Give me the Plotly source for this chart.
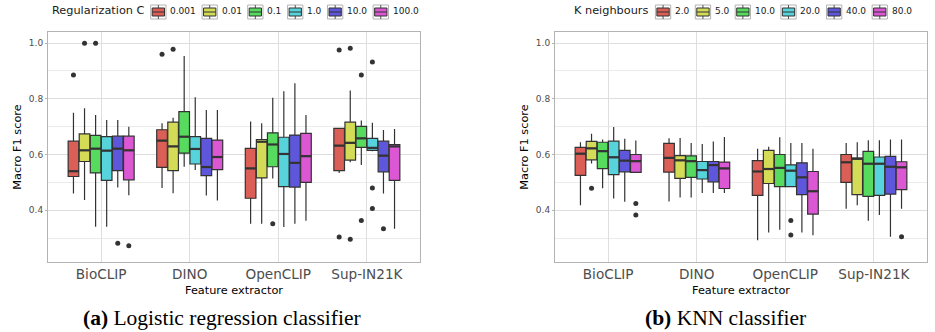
import plotly.graph_objects as go

# ---------------- data ----------------
categories = ["BioCLIP", "DINO", "OpenCLIP", "Sup-IN21K"]

lr_groups = ["0.001", "0.01", "0.1", "1.0", "10.0", "100.0"]
lr_lower = [[0.460, 0.480, 0.351, 0.534], [0.437, 0.461, 0.351, 0.572], [0.341, 0.556, 0.514, 0.562],
            [0.341, 0.544, 0.340, 0.612], [0.482, 0.453, 0.351, 0.460], [0.454, 0.435, 0.362, 0.333]]
lr_q1 = [[0.521, 0.554, 0.443, 0.542], [0.575, 0.542, 0.516, 0.580], [0.534, 0.605, 0.556, 0.626],
         [0.507, 0.566, 0.485, 0.615], [0.542, 0.524, 0.483, 0.538], [0.509, 0.546, 0.500, 0.507]]
lr_median = [[0.540, 0.650, 0.550, 0.632], [0.615, 0.629, 0.646, 0.642], [0.621, 0.664, 0.636, 0.658],
             [0.614, 0.620, 0.602, 0.624], [0.621, 0.555, 0.570, 0.596], [0.615, 0.591, 0.594, 0.629]]
lr_q3 = [[0.648, 0.689, 0.622, 0.694], [0.674, 0.716, 0.654, 0.716], [0.669, 0.754, 0.678, 0.701],
         [0.664, 0.664, 0.662, 0.658], [0.666, 0.658, 0.670, 0.648], [0.666, 0.652, 0.676, 0.636]]
lr_upper = [[0.750, 0.712, 0.719, 0.696], [0.766, 0.732, 0.712, 0.830], [0.742, 0.954, 0.804, 0.722],
            [0.724, 0.806, 0.827, 0.714], [0.724, 0.760, 0.856, 0.688], [0.700, 0.760, 0.742, 0.692]]
lr_outlier_cat = [["BioCLIP", "DINO", "Sup-IN21K", "Sup-IN21K"],
                  ["BioCLIP", "DINO", "Sup-IN21K", "Sup-IN21K"],
                  ["BioCLIP", "OpenCLIP", "Sup-IN21K", "Sup-IN21K"],
                  ["Sup-IN21K", "Sup-IN21K", "Sup-IN21K"],
                  ["BioCLIP", "Sup-IN21K"],
                  ["BioCLIP"]]
lr_outlier_val = [[0.886, 0.960, 0.975, 0.304],
                  [1.000, 0.978, 0.982, 0.296],
                  [1.000, 0.351, 0.886, 0.363],
                  [0.932, 0.480, 0.406],
                  [0.281, 0.333],
                  [0.272]]

knn_groups = ["2.0", "5.0", "10.0", "20.0", "40.0", "80.0"]
knn_lower = [[0.418, 0.431, 0.292, 0.405], [0.568, 0.446, 0.320, 0.418], [0.479, 0.446, 0.330, 0.362],
             [0.442, 0.462, 0.485, 0.383], [0.430, 0.462, 0.320, 0.305], [0.536, 0.462, 0.310, 0.405]]
knn_q1 = [[0.525, 0.537, 0.453, 0.500], [0.581, 0.514, 0.496, 0.456], [0.549, 0.518, 0.485, 0.450],
          [0.528, 0.512, 0.485, 0.453], [0.538, 0.502, 0.456, 0.458], [0.536, 0.478, 0.386, 0.474]]
knn_median = [[0.603, 0.588, 0.539, 0.572], [0.622, 0.579, 0.548, 0.585], [0.612, 0.576, 0.552, 0.567],
              [0.590, 0.544, 0.542, 0.567], [0.578, 0.562, 0.518, 0.556], [0.576, 0.550, 0.468, 0.554]]
knn_q3 = [[0.626, 0.640, 0.578, 0.600], [0.647, 0.596, 0.615, 0.587], [0.644, 0.595, 0.600, 0.611],
          [0.648, 0.575, 0.563, 0.591], [0.615, 0.575, 0.570, 0.593], [0.600, 0.573, 0.539, 0.574]]
knn_upper = [[0.644, 0.658, 0.621, 0.641], [0.675, 0.659, 0.628, 0.644], [0.654, 0.641, 0.662, 0.651],
             [0.699, 0.638, 0.641, 0.651], [0.657, 0.647, 0.641, 0.654], [0.650, 0.663, 0.621, 0.654]]
knn_outlier_cat = [[], ["BioCLIP"], [], ["OpenCLIP", "OpenCLIP"], [], ["BioCLIP", "BioCLIP", "Sup-IN21K"]]
knn_outlier_val = [[], [0.479], [], [0.363, 0.311], [], [0.424, 0.383, 0.305]]

y_ticks = [0.4, 0.6, 0.8, 1.0]
y_minor = [0.3, 0.5, 0.7, 0.9]

# ---------------- style ----------------
colors = ["#db5f57", "#d3db57", "#57db5f", "#57d3db", "#5f57db", "#db57d3"]
W, H = 935, 332
ML, MR, MT, MB = 48, 8, 32, 70
PW, PH = W - ML - MR, H - MT - MB
DODGE = 0.125
BOXW = 0.12
FONT = "DejaVu Sans"


def px_x(px):
    return (px - ML) / PW


def px_y(py):
    return (H - MB - py) / PH


fig = go.Figure()

panels = [
    dict(xa="x", ya="y", groups=lr_groups, lower=lr_lower, q1=lr_q1, med=lr_median, q3=lr_q3,
         upper=lr_upper, ocat=lr_outlier_cat, oval=lr_outlier_val),
    dict(xa="x2", ya="y2", groups=knn_groups, lower=knn_lower, q1=knn_q1, med=knn_median, q3=knn_q3,
         upper=knn_upper, ocat=knn_outlier_cat, oval=knn_outlier_val),
]

for p in panels:
    for j, g in enumerate(p["groups"]):
        offset = (j - (len(p["groups"]) - 1) / 2) * DODGE
        xs = [i + 1 + offset for i in range(len(categories))]
        fig.add_trace(go.Box(
            x=xs, q1=p["q1"][j], median=p["med"][j], q3=p["q3"][j],
            lowerfence=p["lower"][j], upperfence=p["upper"][j],
            width=BOXW, fillcolor=colors[j], whiskerwidth=0,
            line=dict(color="#333333", width=1.2), boxpoints=False,
            name=g, showlegend=False, xaxis=p["xa"], yaxis=p["ya"],
        ))
        # thicker median bar (ggplot fatten)
        mx, my = [], []
        for x, m in zip(xs, p["med"][j]):
            mx += [x - BOXW / 2, x + BOXW / 2, None]
            my += [m, m, None]
        fig.add_trace(go.Scatter(x=mx, y=my, mode="lines", line=dict(color="#333333", width=2.2),
                                 showlegend=False, hoverinfo="skip", xaxis=p["xa"], yaxis=p["ya"]))
        if p["oval"][j]:
            ox = [categories.index(c) + 1 + offset for c in p["ocat"][j]]
            fig.add_trace(go.Scatter(
                x=ox, y=p["oval"][j], mode="markers",
                marker=dict(color="#333333", size=5),
                showlegend=False, xaxis=p["xa"], yaxis=p["ya"],
            ))

xcommon = dict(range=[0.4, 4.6], tickvals=[1, 2, 3, 4], ticktext=categories,
               showgrid=True, gridcolor="#dedede", gridwidth=1, zeroline=False,
               showline=True, mirror=True, linecolor="#b3b3b3", linewidth=1,
               ticks="",
               tickfont=dict(family=FONT, size=13.6, color="#4d4d4d"),
               title=dict(text="Feature extractor", font=dict(family=FONT, size=11.3, color="#000000"),
                          standoff=4),
               automargin=False)
ycommon = dict(range=[0.214, 1.04], tickvals=y_ticks, ticktext=[f"{v:.1f}" for v in y_ticks],
               showgrid=True, gridcolor="#dedede", gridwidth=1, zeroline=False,
               showline=True, mirror=True, linecolor="#b3b3b3", linewidth=1,
               ticks="outside", ticklen=2, tickcolor="#b3b3b3",
               minor=dict(tickvals=y_minor, showgrid=True, gridcolor="#ebebeb", gridwidth=0.8, ticks=""),
               tickfont=dict(family=FONT, size=9, color="#4d4d4d"),
               title=dict(text="Macro F1 score", font=dict(family=FONT, size=11.3, color="#000000"),
                          standoff=4),
               automargin=False)

fig.update_layout(
    width=W, height=H,
    margin=dict(l=ML, r=MR, t=MT, b=MB),
    paper_bgcolor="white", plot_bgcolor="white",
    boxmode="overlay",
    xaxis=dict(domain=[0, px_x(420)], anchor="y", **xcommon),
    yaxis=dict(domain=[0, 1], anchor="x", **ycommon),
    xaxis2=dict(domain=[px_x(555), 1], anchor="y2", **xcommon),
    yaxis2=dict(domain=[0, 1], anchor="x2", **ycommon),
)

# ---------------- legends (ggplot style, drawn per panel) ----------------
CW = {"0": 0.636, "1": 0.636, "2": 0.636, "4": 0.636, "5": 0.636, "8": 0.636, ".": 0.318}


def text_w(s, size):
    return sum(CW.get(c, 0.6) for c in s) * size


shapes = []
annotations = []
legend_specs = [("Regularization C", 50, 93.0, lr_groups), ("K neighbours", 572.3, 75.4, knn_groups)]
for title, tx, tw, groups in legend_specs:
    annotations.append(dict(text=title, x=px_x(tx), y=px_y(10.7), xref="paper", yref="paper",
                            xanchor="left", yanchor="middle", showarrow=False,
                            font=dict(family=FONT, size=11.3, color="#1a1a1a")))
    gx = tx + tw + 7.7
    for j, g in enumerate(groups):
        shapes.append(dict(type="rect", xref="paper", yref="paper",
                           x0=px_x(gx), x1=px_x(gx + 15.3), y0=px_y(19.0), y1=px_y(5.0),
                           line=dict(color="#b3b3b3", width=1), fillcolor="white"))
        shapes.append(dict(type="line", xref="paper", yref="paper",
                           x0=px_x(gx + 7.65), x1=px_x(gx + 7.65), y0=px_y(19.0), y1=px_y(5.0),
                           line=dict(color="#555555", width=1)))
        shapes.append(dict(type="rect", xref="paper", yref="paper",
                           x0=px_x(gx + 1.5), x1=px_x(gx + 13.8), y0=px_y(16.0), y1=px_y(8.0),
                           line=dict(color="#333333", width=1), fillcolor=colors[j]))
        shapes.append(dict(type="line", xref="paper", yref="paper",
                           x0=px_x(gx + 1.5), x1=px_x(gx + 13.8), y0=px_y(12.0), y1=px_y(12.0),
                           line=dict(color="#333333", width=1)))
        lx = gx + 17.6
        annotations.append(dict(text=g, x=px_x(lx), y=px_y(10.7), xref="paper", yref="paper",
                                xanchor="left", yanchor="middle", showarrow=False,
                                font=dict(family=FONT, size=9, color="#1a1a1a")))
        gx = lx + text_w(g, 9) + 8.0

# ---------------- sub-captions ----------------
captions = [("<b>(a)</b> Logistic regression classifier", 222), ("<b>(b)</b> KNN classifier", 725)]
for txt, cx in captions:
    annotations.append(dict(text=txt, x=px_x(cx), y=px_y(318), xref="paper", yref="paper",
                            xanchor="center", yanchor="middle", showarrow=False,
                            font=dict(family="Liberation Serif", size=21.5, color="#000000")))

fig.update_layout(shapes=shapes, annotations=annotations)
fig.write_html("out.html", config={"displayModeBar": False},
               post_script="document.body.style.margin='0px';")
